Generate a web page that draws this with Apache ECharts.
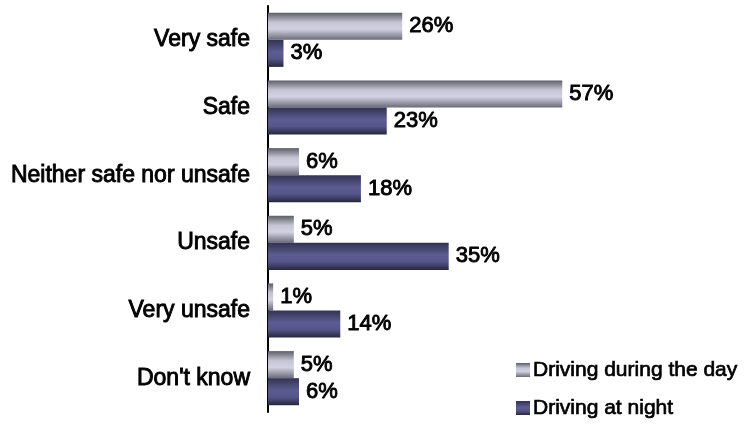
<!DOCTYPE html>
<html><head><meta charset="utf-8">
<script src="https://cdn.jsdelivr.net/npm/echarts@6/dist/echarts.min.js"></script>
<style>html,body{margin:0;padding:0;background:#fff}#c{width:745px;height:425px}</style>
</head><body><div id="c"></div>
<script>
const categories = ["Very safe", "Safe", "Neither safe nor unsafe", "Unsafe", "Very unsafe", "Don't know"];
const seriesNames = ["Driving during the day", "Driving at night"];
const dayValues = [26, 57, 6, 5, 1, 5];
const nightValues = [3, 23, 18, 35, 14, 6];

const FONT = '"Liberation Sans", Arial, sans-serif';
const dayGrad = new echarts.graphic.LinearGradient(0, 0, 0, 1, [
  {offset: 0, color: '#5e5e66'},
  {offset: 0.35, color: '#c4c4d4'},
  {offset: 0.6, color: '#d2d2e2'},
  {offset: 1, color: '#6a6a78'}
]);
const nightGrad = new echarts.graphic.LinearGradient(0, 0, 0, 1, [
  {offset: 0, color: '#33334f'},
  {offset: 0.45, color: '#5c5c92'},
  {offset: 0.7, color: '#55558a'},
  {offset: 1, color: '#262640'}
]);
const textBold = {fontFamily: FONT, fontWeight: 'normal', color: '#000', textBorderColor: '#000', textBorderWidth: 0.9};
const labelStyle = Object.assign({show: true, position: 'right', distance: 7, formatter: '{c}%', fontSize: 22}, textBold);

const chart = echarts.init(document.getElementById('c'), null, {renderer: 'canvas'});
chart.setOption({
  animation: false,
  backgroundColor: '#fff',
  grid: {left: 268, top: 6, bottom: 13, right: 64, containLabel: false},
  xAxis: {type: 'value', min: 0, max: 80, show: false},
  yAxis: {
    type: 'category', data: categories, inverse: true,
    axisLine: {show: true, lineStyle: {color: '#000', width: 2}},
    axisTick: {show: false},
    axisLabel: Object.assign({fontSize: 23, margin: 18}, textBold)
  },
  legend: {
    orient: 'vertical', left: 516, top: 359, height: 66, padding: 0, itemGap: 16,
    itemWidth: 14, itemHeight: 14, icon: 'rect',
    textStyle: Object.assign({fontSize: 21, lineHeight: 22, padding: [0, 0, 0, -2]}, textBold, {textBorderWidth: 0.7}),
    data: seriesNames
  },
  series: [
    {name: seriesNames[0], type: 'bar', data: dayValues, barGap: '0%', barCategoryGap: '20%',
     itemStyle: {color: dayGrad}, label: labelStyle},
    {name: seriesNames[1], type: 'bar', data: nightValues, barGap: '0%', barCategoryGap: '20%',
     itemStyle: {color: nightGrad}, label: labelStyle}
  ]
});
</script></body></html>
